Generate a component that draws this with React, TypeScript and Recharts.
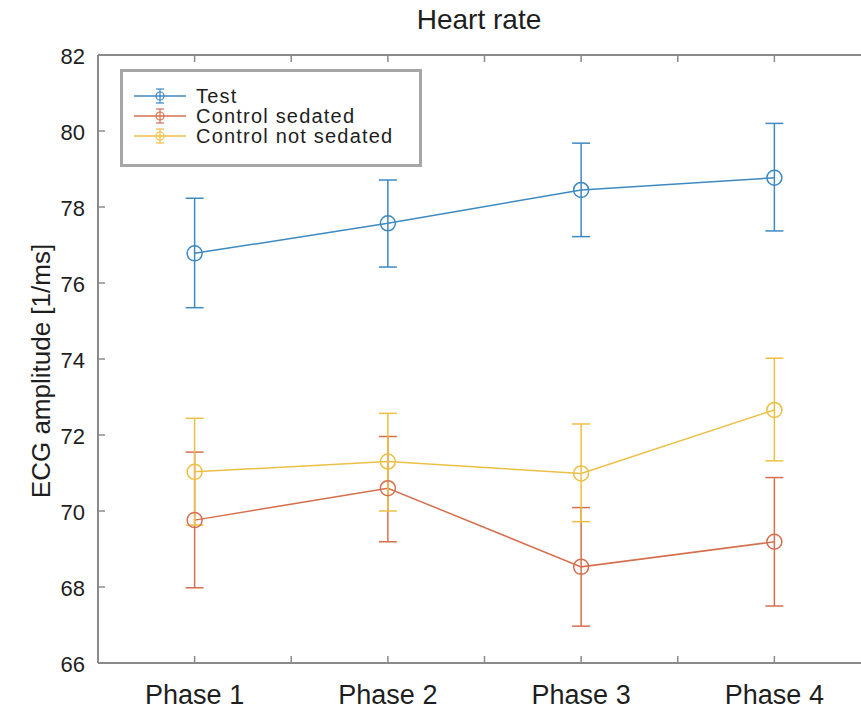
import React from 'react';
import { LineChart, Line, XAxis, YAxis, ErrorBar, Legend } from 'recharts';

const phases = [1, 2, 3, 4];
const phaseNames = ['Phase 1', 'Phase 2', 'Phase 3', 'Phase 4'];
const xTicks = [0.5, 1, 1.5, 2, 2.5, 3, 3.5, 4, 4.5];
const yTicks = [66, 68, 70, 72, 74, 76, 78, 80, 82];

const testMean = [76.78, 77.57, 78.45, 78.77];
const testLow = [75.35, 76.42, 77.22, 77.37];
const testHigh = [78.23, 78.71, 79.68, 80.2];

const sedMean = [69.76, 70.6, 68.53, 69.19];
const sedLow = [67.98, 69.19, 66.97, 67.5];
const sedHigh = [71.55, 71.96, 70.09, 70.88];

const notSedMean = [71.03, 71.3, 70.99, 72.66];
const notSedLow = [69.63, 70.0, 69.72, 71.32];
const notSedHigh = [72.44, 72.57, 72.29, 74.02];

const FONT = '"Liberation Sans", Arial, sans-serif';
const AXIS = '#8a8a8a';
const TEXT = '#1e1e1e';
const BLUE = '#3d89c2';
const RED = '#d5704e';
const YELLOW = '#ecbf45';

const data = phases.map((p, i) => ({
  phase: p,
  test: testMean[i],
  testErr: [testMean[i] - testLow[i], testHigh[i] - testMean[i]],
  sed: sedMean[i],
  sedErr: [sedMean[i] - sedLow[i], sedHigh[i] - sedMean[i]],
  notSed: notSedMean[i],
  notSedErr: [notSedMean[i] - notSedLow[i], notSedHigh[i] - notSedMean[i]],
}));

const series = [
  { key: 'test', name: 'Test', color: BLUE },
  { key: 'sed', name: 'Control sedated', color: RED },
  { key: 'notSed', name: 'Control not sedated', color: YELLOW },
];

const BottomTick = ({ x, y, payload }: any) => {
  const idx = phases.indexOf(payload.value);
  return (
    <g>
      <line x1={x} y1={y} x2={x} y2={y - 7} stroke={AXIS} strokeWidth={1.5} />
      {idx >= 0 && (
        <text x={x} y={y + 41} textAnchor="middle" fontSize={27} fill={TEXT} fontFamily={FONT}>
          {phaseNames[idx]}
        </text>
      )}
    </g>
  );
};

const TopTick = ({ x, y }: any) => (
  <line x1={x} y1={y} x2={x} y2={y + 7} stroke={AXIS} strokeWidth={1.5} />
);

const LeftTick = ({ x, y, payload }: any) => (
  <g>
    <line x1={x} y1={y} x2={x + 7} y2={y} stroke={AXIS} strokeWidth={1.5} />
    <text x={x - 13} y={y + 9} textAnchor="end" fontSize={22} fill={TEXT} fontFamily={FONT}>
      {payload.value}
    </text>
  </g>
);

const YLabel = ({ viewBox }: any) => {
  const cx = 50;
  const cy = viewBox.y + viewBox.height / 2 + 12;
  return (
    <text
      x={cx}
      y={cy}
      transform={`rotate(-90, ${cx}, ${cy})`}
      textAnchor="middle"
      fontSize={26}
      fill={TEXT}
      fontFamily={FONT}
    >
      ECG amplitude [1/ms]
    </text>
  );
};

const LegendBox = () => (
  <div
    style={{
      boxSizing: 'border-box',
      width: 302,
      height: 98,
      border: '3.5px solid #a6a6a6',
      background: '#fff',
      paddingTop: 14,
      fontFamily: FONT,
    }}
  >
    {series.map((s) => (
      <div key={s.key} style={{ display: 'flex', alignItems: 'center', height: 20 }}>
        <svg width={52} height={20} style={{ marginLeft: 11, marginRight: 10 }}>
          <line x1={0} y1={10} x2={52} y2={10} stroke={s.color} strokeWidth={1.5} />
          <line x1={26} y1={3} x2={26} y2={17} stroke={s.color} strokeWidth={1.2} />
          <line x1={22} y1={3} x2={30} y2={3} stroke={s.color} strokeWidth={1.2} />
          <line x1={22} y1={17} x2={30} y2={17} stroke={s.color} strokeWidth={1.2} />
          <circle cx={26} cy={10} r={4} fill="none" stroke={s.color} strokeWidth={1.2} />
        </svg>
        <span style={{ fontSize: 20, lineHeight: '20px', color: TEXT, whiteSpace: 'nowrap', letterSpacing: 1.2 }}>
          {s.name}
        </span>
      </div>
    ))}
  </div>
);

export default function App() {
  return (
    <div
      style={{
        position: 'fixed',
        left: 0,
        top: 0,
        width: 861,
        height: 710,
        overflow: 'hidden',
        background: '#fff',
      }}
    >
      <div
        style={{
          position: 'absolute',
          left: 0,
          width: 958,
          top: 4,
          textAlign: 'center',
          fontFamily: FONT,
          fontSize: 28,
          color: TEXT,
        }}
      >
        Heart rate
      </div>
      <LineChart width={900} height={710} data={data} margin={{ top: 0, right: 29, bottom: 0, left: 0 }}>
        <XAxis
          dataKey="phase"
          type="number"
          domain={[0.5, 4.5]}
          ticks={xTicks}
          interval={0}
          height={47}
          tickSize={0}
          tickMargin={0}
          tickLine={false}
          axisLine={{ stroke: AXIS, strokeWidth: 2 }}
          tick={<BottomTick />}
          allowDataOverflow
        />
        <XAxis
          xAxisId="top"
          orientation="top"
          dataKey="phase"
          type="number"
          domain={[0.5, 4.5]}
          ticks={xTicks}
          interval={0}
          height={55}
          tickSize={0}
          tickMargin={0}
          tickLine={false}
          axisLine={{ stroke: AXIS, strokeWidth: 2 }}
          tick={<TopTick />}
          allowDataOverflow
        />
        <YAxis
          domain={[66, 82]}
          ticks={yTicks}
          interval={0}
          width={98}
          tickSize={0}
          tickMargin={0}
          tickLine={false}
          axisLine={{ stroke: AXIS, strokeWidth: 2 }}
          tick={<LeftTick />}
          label={<YLabel />}
          allowDataOverflow
        />
        <Legend
          layout="horizontal"
          verticalAlign="middle"
          align="center"
          wrapperStyle={{ left: 120, top: 69, width: 'auto' }}
          content={() => <LegendBox />}
        />
        {series.map((s) => (
          <Line
            key={s.key}
            dataKey={s.key}
            name={s.name}
            stroke={s.color}
            strokeWidth={1.5}
            dot={{ r: 7.5, fill: 'none', stroke: s.color, strokeWidth: 1.5 }}
            activeDot={false}
            isAnimationActive={false}
          >
            <ErrorBar
              dataKey={`${s.key}Err`}
              direction="y"
              width={9}
              stroke={s.color}
              strokeWidth={1.5}
              isAnimationActive={false}
            />
          </Line>
        ))}
      </LineChart>
    </div>
  );
}
